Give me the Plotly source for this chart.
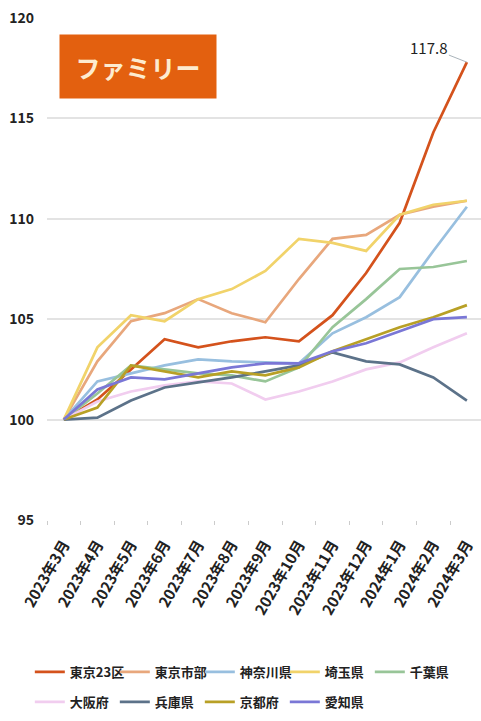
import plotly.graph_objects as go

months = ["2023年3月", "2023年4月", "2023年5月", "2023年6月", "2023年7月", "2023年8月",
          "2023年9月", "2023年10月", "2023年11月", "2023年12月", "2024年1月", "2024年2月", "2024年3月"]

tokyo23 = [100, 101.0, 102.5, 104.0, 103.6, 103.9, 104.1, 103.9, 105.2, 107.3, 109.8, 114.3, 117.8]
tokyo_shibu = [100, 102.9, 104.9, 105.3, 106.0, 105.3, 104.85, 107.0, 109.0, 109.2, 110.2, 110.6, 110.9]
kanagawa = [100, 101.9, 102.3, 102.7, 103.0, 102.9, 102.85, 102.8, 104.3, 105.1, 106.1, 108.4, 110.6]
saitama = [100, 103.6, 105.2, 104.9, 106.0, 106.5, 107.4, 109.0, 108.8, 108.4, 110.2, 110.7, 110.9]
chiba = [100, 101.3, 102.7, 102.5, 102.3, 102.2, 101.9, 102.6, 104.6, 106.0, 107.5, 107.6, 107.9]
osaka = [100, 100.9, 101.4, 101.7, 101.9, 101.8, 101.0, 101.4, 101.9, 102.5, 102.85, 103.6, 104.3]
hyogo = [100, 100.1, 100.95, 101.6, 101.85, 102.1, 102.4, 102.7, 103.35, 102.9, 102.75, 102.1, 100.95]
kyoto = [100, 100.6, 102.7, 102.4, 102.1, 102.4, 102.2, 102.6, 103.4, 104.0, 104.6, 105.1, 105.7]
aichi = [100, 101.5, 102.1, 102.0, 102.3, 102.6, 102.8, 102.8, 103.4, 103.8, 104.4, 105.0, 105.1]

series_names = ["東京23区", "東京市部", "神奈川県", "埼玉県", "千葉県",
                "大阪府", "兵庫県", "京都府", "愛知県"]
series_values = [tokyo23, tokyo_shibu, kanagawa, saitama, chiba, osaka, hyogo, kyoto, aichi]
series_colors = ["#d4521c", "#e8a77c", "#98bfdf", "#f1d36a", "#98c598",
                 "#f1cdef", "#5c7289", "#b8a026", "#7a77d6"]

y_ticks = [95, 100, 105, 110, 115, 120]
title_text = "ファミリー"
last_label = "117.8"

FONT = "Noto Sans CJK JP"

fig = go.Figure()
for i, (name, vals, col) in enumerate(zip(series_names, series_values, series_colors)):
    fig.add_trace(go.Scatter(
        x=months, y=vals, name=name, mode="lines",
        line=dict(color=col, width=2.7),
        legend="legend" if i < 5 else "legend2",
    ))

legend_common = dict(orientation="h", xref="container", yref="container",
                     xanchor="left", yanchor="middle", entrywidth=40,
                     font=dict(size=13, color="#222", weight="bold"),
                     bgcolor="rgba(0,0,0,0)", traceorder="normal")

fig.update_layout(
    width=481, height=721,
    margin=dict(l=47, r=0, t=18, b=201),
    paper_bgcolor="white", plot_bgcolor="white",
    font=dict(family=FONT, color="#222222"),
    showlegend=True,
    legend=dict(legend_common, x=0.062, y=(721 - 672) / 721),
    legend2=dict(legend_common, x=0.062, y=(721 - 702) / 721),
    xaxis=dict(
        type="category", range=[-0.5, 12.42],
        showgrid=False, tickson="boundaries", ticks="outside", ticklen=4,
        tickcolor="#cccccc", tickangle=-60,
        tickfont=dict(size=15, color="#222", weight="bold"),
        showline=False, zeroline=False, ticklabelstandoff=12,
    ),
    yaxis=dict(
        range=[95, 120], tickvals=y_ticks, showgrid=True,
        gridcolor="#e3e3e3", gridwidth=2, zeroline=False,
        tickfont=dict(size=14, color="#222", weight="bold"),
        ticklabelstandoff=12,
    ),
)

fig.add_annotation(
    xref="paper", yref="paper",
    x=(138 - 47) / 434, y=(520 - 66.5) / 502,
    xanchor="center", yanchor="middle",
    text=title_text, showarrow=False,
    bgcolor="#e3600f", width=152, height=59, borderpad=2,
    font=dict(size=25, color="#fdebcf", family=FONT, weight="bold"),
)

fig.add_annotation(
    x=months[-1], y=tokyo23[-1], text=last_label,
    showarrow=True, arrowhead=0, arrowwidth=1, arrowcolor="#aab4bb",
    ax=-38, ay=-15,
    font=dict(size=15, color="#222", family=FONT),
)

fig.write_html("out.html", config={"displayModeBar": False})
